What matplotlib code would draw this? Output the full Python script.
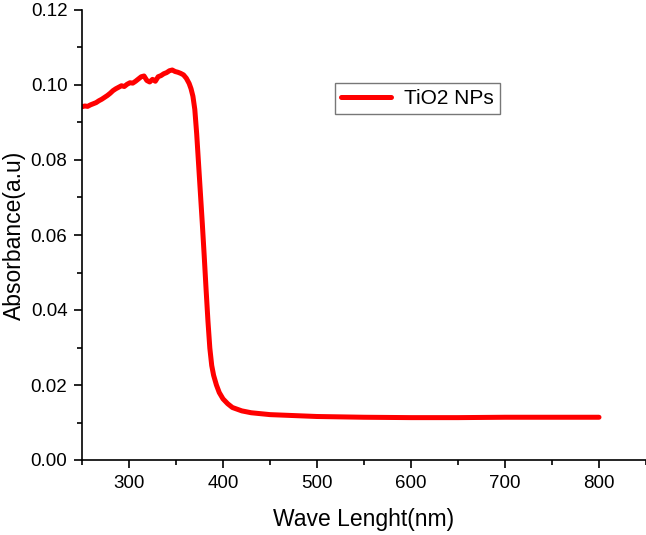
import matplotlib
matplotlib.use("Agg")
import matplotlib.pyplot as plt
from matplotlib.ticker import MultipleLocator

wavelength = [250, 253, 256, 259, 262, 265, 268, 271, 274, 277, 280, 283, 286, 289,
              292, 295, 298, 301, 304, 307, 310, 313, 316, 319, 322, 325, 328, 331,
              334, 337, 340, 343, 346, 349, 352, 355, 358, 361, 364, 366, 368, 370,
              372, 374, 376, 378, 380, 382, 384, 386, 388, 390, 393, 396, 400, 405,
              410, 420, 430, 450, 470, 500, 550, 600, 650, 700, 750, 800]
absorbance = [0.0942, 0.0944, 0.0943, 0.0947, 0.0950, 0.0953, 0.0958, 0.0962, 0.0967, 0.0972,
              0.0978, 0.0985, 0.0990, 0.0994, 0.0998, 0.0996, 0.1002, 0.1006, 0.1005, 0.1010,
              0.1016, 0.1022, 0.1024, 0.1012, 0.1008, 0.1015, 0.1010, 0.1022, 0.1025, 0.1030,
              0.1033, 0.1038, 0.1040, 0.1036, 0.1034, 0.1031, 0.1027, 0.1018, 0.1004, 0.0990,
              0.0970, 0.0935, 0.0870, 0.0790, 0.0710, 0.0630, 0.0545, 0.0455, 0.0370, 0.0298,
              0.0252, 0.0226, 0.0200, 0.0180, 0.0163, 0.0150, 0.0140, 0.0131, 0.0126, 0.0121,
              0.0119, 0.0116, 0.0114, 0.0113, 0.0113, 0.0114, 0.0114, 0.0114]

x_ticks = [300, 400, 500, 600, 700, 800]
y_ticks = [0.00, 0.02, 0.04, 0.06, 0.08, 0.10, 0.12]

plt.rcParams['font.family'] = ['Liberation Sans', 'DejaVu Sans']

fig = plt.figure(figsize=(6.46, 5.35), dpi=100)
ax = fig.add_axes([82/646, 75/535, 564/646, 450/535])

ax.plot(wavelength, absorbance, color='#ff0000', lw=3.6, solid_capstyle='round',
        label='TiO2 NPs')

ax.set_xlim(250, 850)
ax.set_ylim(0, 0.12)
ax.set_xticks(x_ticks)
ax.set_yticks(y_ticks)
ax.set_yticklabels([f"{v:.2f}" for v in y_ticks])
ax.xaxis.set_minor_locator(MultipleLocator(50))
ax.yaxis.set_minor_locator(MultipleLocator(0.01))

for s in ['top', 'right']:
    ax.spines[s].set_visible(False)
for s in ['left', 'bottom']:
    ax.spines[s].set_linewidth(1.2)
    ax.spines[s].set_clip_on(False)

ax.tick_params(which='major', direction='out', length=5.5, width=1.2, labelsize=13.5, pad=5)
ax.tick_params(which='minor', direction='out', length=3.6, width=1.2)

ax.set_xlabel('Wave Lenght(nm)', fontsize=16.5, labelpad=12)
ax.set_ylabel('Absorbance(a.u)', fontsize=16.5)
ax.yaxis.set_label_coords(-0.100, 0.5)

leg = ax.legend(loc='upper left', bbox_to_anchor=(0.449, 0.838), fontsize=15,
                frameon=True, fancybox=False, edgecolor='#777777', framealpha=1,
                handlelength=2.4, handletextpad=0.6, borderpad=0.3,
                borderaxespad=0)
leg.get_frame().set_linewidth(1.0)

fig.savefig('out.png', dpi=100)
